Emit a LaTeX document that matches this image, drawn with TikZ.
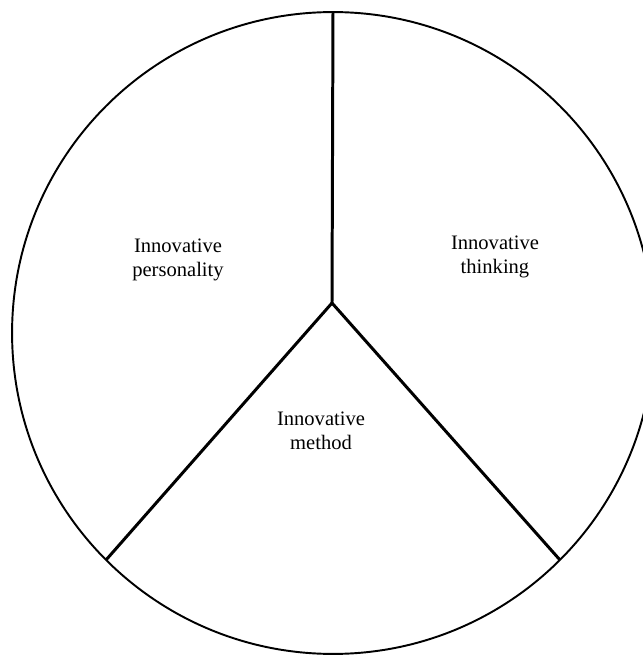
\documentclass[tikz,border=0pt]{standalone}
\usepackage{fontspec}
\setmainfont{Liberation Serif}
\usetikzlibrary{positioning}
\tikzset{
  wheel/.style={draw, circle, line width=1.1pt, minimum size=12.84cm, inner sep=0pt, outer sep=0pt},
  spoke/.style={line width=1.7pt},
  part/.style={align=center, font=\fontsize{11.7}{13.6}\selectfont}
}
\begin{document}
\begin{tikzpicture}[x=0.02cm, y=0.02cm]
    \useasboundingbox (0,0) rectangle (643,657);
    \clip (0,0) rectangle (643,657);

    \node[wheel] (disc) at (333,324) {};
    \coordinate (hub) at (332,354);

    \draw[spoke] (disc.90) -- (hub);
    \draw[spoke] (hub) -- (disc.225);
    \draw[spoke] (hub) -- (disc.-45);

    \node[part] (personality) at (178,397) {Innovative\\personality};
    \node[part] (thinking) at (495,400) {Innovative\\thinking};
    \node[part] (method) at (321,226) {Innovative\\method};
\end{tikzpicture}
\end{document}
